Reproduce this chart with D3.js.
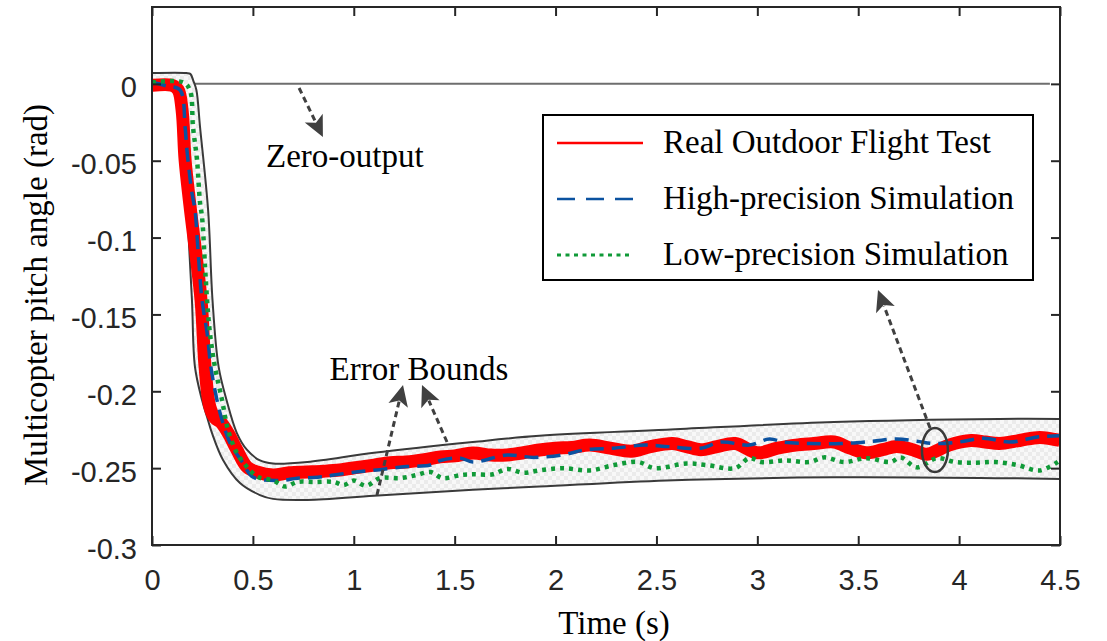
<!DOCTYPE html>
<html>
<head>
<meta charset="utf-8">
<script src="https://cdn.jsdelivr.net/npm/d3@7"></script>
<style>
  body { margin: 0; background: #fff; }
  svg { display: block; }
</style>
</head>
<body>
<div id="chart"></div>
<script>
// [time (s), pitch angle (rad)]
const upperBound = [[0, 0.007], [0.17, 0.007], [0.19, 0.0065], [0.205, 0.002], [0.22, -0.004], [0.238, -0.028],
  [0.278, -0.082], [0.30, -0.141], [0.33, -0.184], [0.37, -0.206], [0.42, -0.227], [0.47, -0.238], [0.535, -0.245],
  [0.60, -0.247], [0.77, -0.246], [1.10, -0.240], [1.59, -0.233], [1.92, -0.229], [2.55, -0.225], [3.38, -0.220],
  [4.2, -0.218], [4.5, -0.218]];

const lowerBound = [[0, -0.004], [0.10, -0.004], [0.14, -0.0086], [0.154, -0.028], [0.173, -0.079], [0.198, -0.1406],
  [0.213, -0.1842], [0.248, -0.2057], [0.273, -0.2167], [0.297, -0.2271], [0.352, -0.2447], [0.436, -0.2597],
  [0.535, -0.2675], [0.60, -0.270], [0.77, -0.2707], [1.10, -0.268], [1.59, -0.264], [1.92, -0.262], [2.55, -0.258],
  [3.38, -0.256], [4.2, -0.2565], [4.5, -0.257]];

const realFlight = [[0, -0.001], [0.10, -0.001], [0.13, -0.004], [0.149, -0.017], [0.164, -0.0495], [0.188, -0.079],
  [0.243, -0.1406], [0.263, -0.1842], [0.287, -0.2102], [0.312, -0.2174], [0.34, -0.220], [0.377, -0.2271],
  [0.42, -0.238], [0.471, -0.2493], [0.52, -0.2525], [0.60, -0.2545], [0.68, -0.2530], [0.77, -0.2525],
  [0.85, -0.2520], [0.93, -0.2512], [1.02, -0.2495], [1.10, -0.248], [1.18, -0.2465], [1.26, -0.246],
  [1.35, -0.2445], [1.43, -0.2427], [1.50, -0.2420], [1.59, -0.2401], [1.68, -0.2415], [1.76, -0.2414],
  [1.84, -0.2400], [1.92, -0.2382], [2.0, -0.237], [2.08, -0.2365], [2.17, -0.235], [2.27, -0.237],
  [2.375, -0.239], [2.47, -0.236], [2.58, -0.234], [2.65, -0.236], [2.72, -0.238], [2.80, -0.236], [2.89, -0.234],
  [3.0, -0.240], [3.10, -0.237], [3.19, -0.235], [3.28, -0.234], [3.38, -0.233], [3.46, -0.237], [3.54, -0.240],
  [3.62, -0.238], [3.69, -0.236], [3.77, -0.238], [3.84, -0.241], [3.90, -0.238], [3.95, -0.235], [4.06, -0.232],
  [4.13, -0.233], [4.2, -0.234], [4.3, -0.232], [4.4, -0.230], [4.5, -0.232]];

const highPrecision = [[0, 0.001], [0.074, -0.0014], [0.139, -0.004], [0.164, -0.028], [0.173, -0.043],
  [0.198, -0.071], [0.213, -0.082], [0.228, -0.108], [0.248, -0.1406], [0.273, -0.162], [0.292, -0.1842],
  [0.322, -0.2057], [0.347, -0.2187], [0.387, -0.2336], [0.451, -0.2467], [0.50, -0.2558], [0.635, -0.258],
  [0.72, -0.2565], [0.82, -0.256], [0.90, -0.2545], [1.01, -0.2525], [1.13, -0.251], [1.26, -0.249],
  [1.38, -0.248], [1.43, -0.245], [1.53, -0.2435], [1.59, -0.246], [1.76, -0.2415], [1.89, -0.243],
  [2.03, -0.2415], [2.15, -0.238], [2.29, -0.237], [2.44, -0.235], [2.56, -0.236], [2.72, -0.237],
  [2.82, -0.233], [2.96, -0.235], [3.06, -0.231], [3.13, -0.233], [3.26, -0.234], [3.42, -0.234],
  [3.57, -0.2325], [3.69, -0.231], [3.79, -0.2325], [3.88, -0.234], [4.0, -0.233], [4.12, -0.2305],
  [4.25, -0.233], [4.40, -0.2295], [4.5, -0.229]];

const lowPrecision = [[0, 0.001], [0.154, 0.001], [0.188, -0.004], [0.203, -0.028], [0.223, -0.0495],
  [0.238, -0.0775], [0.248, -0.0866], [0.263, -0.1191], [0.273, -0.1406], [0.287, -0.162], [0.312, -0.1842],
  [0.347, -0.2057], [0.377, -0.2252], [0.421, -0.2401], [0.471, -0.2493], [0.525, -0.2558], [0.60, -0.258],
  [0.66, -0.262], [0.72, -0.259], [0.80, -0.259], [0.90, -0.259], [0.95, -0.261], [1.0, -0.258], [1.06, -0.2615],
  [1.13, -0.2565], [1.23, -0.2565], [1.31, -0.2545], [1.38, -0.2525], [1.44, -0.2565], [1.53, -0.2545],
  [1.59, -0.254], [1.69, -0.254], [1.76, -0.2505], [1.84, -0.253], [1.92, -0.2515], [2.03, -0.250],
  [2.17, -0.2515], [2.29, -0.248], [2.41, -0.246], [2.49, -0.250], [2.65, -0.247], [2.75, -0.248], [2.89, -0.250],
  [2.96, -0.2435], [3.02, -0.246], [3.14, -0.245], [3.26, -0.246], [3.33, -0.243], [3.43, -0.246],
  [3.54, -0.2435], [3.66, -0.246], [3.71, -0.243], [3.79, -0.2495], [3.89, -0.2435], [3.98, -0.246],
  [4.08, -0.2465], [4.18, -0.246], [4.29, -0.248], [4.40, -0.2515], [4.5, -0.245]];

const zeroOutput = [[0, 0], [4.45, 0]];

const xTicks = [0, 0.5, 1, 1.5, 2, 2.5, 3, 3.5, 4, 4.5];
const yTicks = [0, -0.05, -0.1, -0.15, -0.2, -0.25, -0.3];
const legendLabels = ["Real Outdoor Flight Test", "High-precision Simulation", "Low-precision Simulation"];

// annotations, in data units: [from, to]
const arrows = [
  [[0.729, -0.0027], [0.847, -0.0346]],
  [[1.115, -0.2675], [1.244, -0.1959]],
  [[1.462, -0.233], [1.338, -0.1959]],
  [[3.856, -0.2239], [3.598, -0.1341]]
];
const circleAt = [3.88, -0.2382];

const W = 1107, H = 641;
const plotLeft = 152, plotRight = 1060, plotTop = 7, plotBottom = 545;

const svg = d3.select("#chart").append("svg")
  .attr("width", W).attr("height", H);

const x = d3.scaleLinear().domain([0, 4.5]).range([plotLeft, plotRight]);
const y = d3.scaleLinear().domain([-0.3, 0.05]).range([plotBottom, plotTop]);

const defs = svg.append("defs");
const pat = defs.append("pattern")
  .attr("id", "checker").attr("width", 8).attr("height", 8)
  .attr("patternUnits", "userSpaceOnUse");
pat.append("rect").attr("width", 8).attr("height", 8).attr("fill", "#f8f8f8");
pat.append("rect").attr("width", 4).attr("height", 4).attr("fill", "#ebebeb");
pat.append("rect").attr("x", 4).attr("y", 4).attr("width", 4).attr("height", 4).attr("fill", "#ebebeb");

defs.append("clipPath").attr("id", "plotClip")
  .append("rect")
  .attr("x", plotLeft).attr("y", plotTop)
  .attr("width", plotRight - plotLeft).attr("height", plotBottom - plotTop);

const line = d3.line()
  .x(d => x(d[0]))
  .y(d => y(d[1]))
  .curve(d3.curveCatmullRom.alpha(0.5));

const plot = svg.append("g").attr("clip-path", "url(#plotClip)");

// zero output line
plot.append("path")
  .attr("d", line(zeroOutput))
  .attr("fill", "none")
  .attr("stroke", "#6e6e6e")
  .attr("stroke-width", 2);

// error band
const bandPath = line(upperBound) + "L" + line(lowerBound.slice().reverse()).slice(1) + "Z";
plot.append("path")
  .attr("d", bandPath)
  .attr("fill", "url(#checker)")
  .attr("stroke", "none");

[upperBound, lowerBound].forEach(b => {
  plot.append("path")
    .attr("d", line(b))
    .attr("fill", "none")
    .attr("stroke", "#3a3a3a")
    .attr("stroke-width", 2);
});

// series
plot.append("path")
  .attr("d", line(realFlight))
  .attr("fill", "none")
  .attr("stroke", "#ff0000")
  .attr("stroke-width", 13)
  .attr("stroke-linejoin", "round");

plot.append("path")
  .attr("d", line(highPrecision))
  .attr("fill", "none")
  .attr("stroke", "#0b52a0")
  .attr("stroke-width", 3.5)
  .attr("stroke-dasharray", "14,8");

plot.append("path")
  .attr("d", line(lowPrecision))
  .attr("fill", "none")
  .attr("stroke", "#109a38")
  .attr("stroke-width", 4.5)
  .attr("stroke-dasharray", "4,5");

// annotation arrows
const ann = svg.append("g");
arrows.forEach(a => {
  const x0 = x(a[0][0]), y0 = y(a[0][1]), x1 = x(a[1][0]), y1 = y(a[1][1]);
  const dx = x1 - x0, dy = y1 - y0, len = Math.hypot(dx, dy);
  const ux = dx / len, uy = dy / len;
  const hl = 21, hw = 10;
  const bx = x1 - ux * hl, by = y1 - uy * hl;
  ann.append("line")
    .attr("x1", x0).attr("y1", y0)
    .attr("x2", bx + ux * 4).attr("y2", by + uy * 4)
    .attr("stroke", "#404040")
    .attr("stroke-width", 3)
    .attr("stroke-dasharray", "6,4");
  const pts = [
    [x1, y1],
    [bx - uy * hw, by + ux * hw],
    [bx + ux * 5, by + uy * 5],
    [bx + uy * hw, by - ux * hw]
  ];
  ann.append("polygon")
    .attr("points", pts.map(p => p.join(",")).join(" "))
    .attr("fill", "#404040");
});

ann.append("ellipse")
  .attr("cx", x(circleAt[0])).attr("cy", y(circleAt[1]))
  .attr("rx", 13).attr("ry", 22)
  .attr("fill", "none")
  .attr("stroke", "#3a3a3a")
  .attr("stroke-width", 2.5);

const serif = "'Liberation Serif', 'Times New Roman', serif";
const sans = "'Liberation Sans', Arial, sans-serif";

svg.append("text")
  .attr("x", x(0.565)).attr("y", y(-0.0541))
  .attr("font-family", serif).attr("font-size", 33)
  .text("Zero-output");

svg.append("text")
  .attr("x", x(1.323)).attr("y", y(-0.1927))
  .attr("text-anchor", "middle")
  .attr("font-family", serif).attr("font-size", 33)
  .text("Error Bounds");

// legend
const lg = svg.append("g");
lg.append("rect")
  .attr("x", 543).attr("y", 115).attr("width", 490).attr("height", 165)
  .attr("fill", "#fff").attr("stroke", "#000").attr("stroke-width", 2);
const legStyles = [
  { color: "#ff0000", dash: null, w: 2.5, x2: 643 },
  { color: "#0b52a0", dash: "18,11", w: 2.5, x2: 640 },
  { color: "#109a38", dash: "4,4.5", w: 3, x2: 633 }
];
legendLabels.forEach((lab, i) => {
  const yy = 143 + i * 56;
  const s = legStyles[i];
  lg.append("line")
    .attr("x1", 557).attr("x2", s.x2).attr("y1", yy).attr("y2", yy)
    .attr("stroke", s.color).attr("stroke-width", s.w)
    .attr("stroke-dasharray", s.dash);
  lg.append("text")
    .attr("x", 663).attr("y", yy + 10)
    .attr("font-family", serif).attr("font-size", 33)
    .text(lab);
});

// axes
const fmt = d => d === 0 ? "0" : String(d);
const xAxis = svg.append("g")
  .attr("transform", `translate(0,${plotBottom})`)
  .call(d3.axisBottom(x).tickValues(xTicks).tickFormat(fmt).tickSizeInner(-9).tickSizeOuter(0).tickPadding(24));
const yAxis = svg.append("g")
  .attr("transform", `translate(${plotLeft},0)`)
  .call(d3.axisLeft(y).tickValues(yTicks).tickFormat(fmt).tickSizeInner(-9).tickSizeOuter(0).tickPadding(15));
svg.append("g")
  .attr("transform", `translate(0,${plotTop})`)
  .call(d3.axisTop(x).tickValues(xTicks).tickFormat("").tickSizeInner(-9).tickSizeOuter(0));
svg.append("g")
  .attr("transform", `translate(${plotRight},0)`)
  .call(d3.axisRight(y).tickValues(yTicks).tickFormat("").tickSizeInner(-9).tickSizeOuter(0));

svg.selectAll(".domain").attr("stroke", "none");
svg.selectAll(".tick line").attr("stroke", "#262626").attr("stroke-width", 2);
svg.selectAll(".tick text")
  .attr("font-family", sans).attr("font-size", 29).attr("fill", "#262626");
yAxis.selectAll(".tick text").attr("dy", "0.45em");

svg.append("rect")
  .attr("x", plotLeft).attr("y", plotTop).attr("width", plotRight - plotLeft).attr("height", plotBottom - plotTop)
  .attr("fill", "none").attr("stroke", "#262626").attr("stroke-width", 2);

svg.append("text")
  .attr("x", 614).attr("y", 634)
  .attr("text-anchor", "middle")
  .attr("font-family", serif).attr("font-size", 33)
  .text("Time (s)");

svg.append("text")
  .attr("transform", "translate(47,295) rotate(-90)")
  .attr("text-anchor", "middle")
  .attr("font-family", serif).attr("font-size", 33)
  .text("Multicopter pitch angle (rad)");
</script>
</body>
</html>
